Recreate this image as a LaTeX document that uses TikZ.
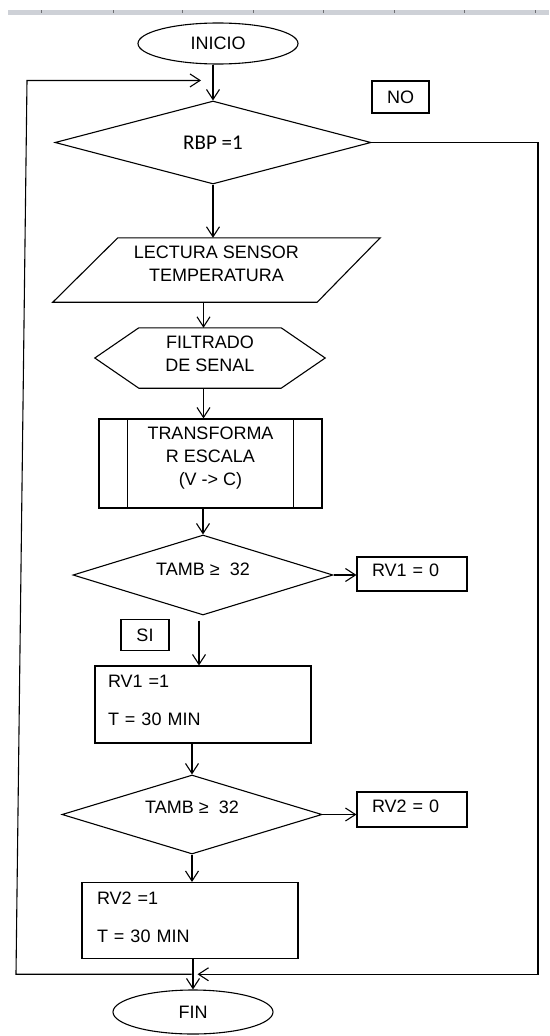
\documentclass[tikz,border=0pt]{standalone}
\usepackage{fontspec}
\setmainfont{Liberation Sans}
\newfontfamily\calibrifont{Carlito}
\usetikzlibrary{arrows.meta,shapes.geometric,calc}

\definecolor{rulerbar}{RGB}{206,209,215}
\definecolor{rulertick}{RGB}{110,110,115}

\begin{document}
\begin{tikzpicture}[x=1pt,y=-1pt,
  every node/.style={font=\fontsize{18}{23}\selectfont, text=black},
  line/.style={line width=1.1pt, draw=black},
  arr/.style={line, -{Straight Barb[length=10pt,width=13pt]}},
  box/.style={rectangle, line, inner sep=0pt},
  plain/.style={rectangle, inner sep=0pt},
  term/.style={ellipse, line, inner sep=0pt, minimum width=160pt},
  decide/.style={diamond, line, inner sep=0pt, aspect=3.3},
]
\useasboundingbox (0,0) rectangle (549,1036);

% ruler strip along the top edge
\fill[rulerbar] (8,10) rectangle (549,15);
\foreach \t in {41,113,182,253,323,394,464,535}
  \draw[rulertick, line width=1pt] (\t,10) -- (\t,12.5);

% ---- nodes ----
\node[term, minimum height=41pt] (inicio) at (218,43.5) {INICIO};
\node[decide, minimum width=316pt, minimum height=83pt,
      font=\calibrifont\fontsize{21}{25}\selectfont] (dia1) at (213,142.5) {RBP =1};
\node[box, minimum width=57pt, minimum height=32pt] (no) at (400.5,97) {NO};

\node[plain, minimum width=327pt, minimum height=64pt, align=center,
      text depth=13pt] (para) at (216.5,270) {LECTURA SENSOR\\TEMPERATURA};
\node[plain, minimum width=230pt, minimum height=60pt, align=center,
      text depth=8pt] (filt) at (210,358) {FILTRADO\\DE SENAL};
\node[box, minimum width=223pt, minimum height=89pt, align=center,
      text depth=14pt] (trans) at (210.5,463.5) {TRANSFORMA\\R ESCALA\\(V -> C)};

\node[decide, minimum width=260pt, minimum height=80pt,
      text depth=12pt] (dia2) at (203,575) {TAMB ≥ \hspace{5pt}32};
\node[box, minimum width=110pt, minimum height=34pt, text width=80pt,
      align=left, text depth=8pt] (rv10) at (412,574) {RV1 = 0};
\node[box, minimum width=48pt, minimum height=31pt] (si) at (145,635) {SI};
\node[box, minimum width=216pt, minimum height=77pt, text width=190pt,
      align=left, text depth=46pt] (rv11) at (203,704.5) {RV1 =1\\[15pt]T = 30 MIN};

\node[decide, minimum width=260pt, minimum height=79pt,
      text depth=15pt] (dia3) at (192,814.5) {TAMB ≥ \hspace{5pt}32};
\node[box, minimum width=110pt, minimum height=35pt, text width=80pt,
      align=left, text depth=7pt] (rv20) at (412,809.5) {RV2 = 0};
\node[box, minimum width=216pt, minimum height=76pt, text width=186pt,
      align=left, text depth=44pt] (rv21) at (190,920.5) {RV2 =1\\[15pt]T = 30 MIN};

\node[term, minimum height=44pt] (fin) at (193,1012) {FIN};

% outlines of the input/output and preparation shapes
\draw[line] (para.south west) -- ([xshift=65pt]para.north west)
  -- (para.north east) -- ([xshift=-63pt]para.south east) -- cycle;
\draw[line] (filt.west) -- ([xshift=44pt]filt.north west)
  -- ([xshift=-44pt]filt.north east) -- (filt.east)
  -- ([xshift=-44pt]filt.south east) -- ([xshift=44pt]filt.south west) -- cycle;
% predefined-process side bars
\draw[line] ([xshift=29pt]trans.north west) -- ([xshift=29pt]trans.south west);
\draw[line] ([xshift=-29pt]trans.north east) -- ([xshift=-29pt]trans.south east);

% ---- connectors ----
\coordinate (axis) at (203.5,0);
\coordinate (rc) at (538,0);
\coordinate (lb) at (16,0);
\coordinate (lt) at (27,0);

\draw[arr] (dia1.north |- inicio.south) -- (dia1.north);
\draw[arr] (dia1.south) -- (dia1.south |- para.north);
\draw[arr] (para.south -| axis) -- (filt.north -| axis);
\draw[arr] (filt.south -| axis) -- (trans.north -| axis);
\draw[arr] (trans.south -| dia2.north) -- (dia2.north);
\draw[arr] (dia2.east) -- (dia2.east -| rv10.west);
\draw[arr] ([xshift=-4pt,yshift=-5pt]dia2.south) -- ([xshift=-4pt]dia2.south |- rv11.north);
\draw[arr] (dia3.north |- rv11.south) -- (dia3.north);
\draw[arr] (dia3.east) -- (dia3.east -| rv20.west);
\draw[arr] (dia3.south) -- (dia3.south |- rv21.north);
\draw[arr] (fin.north |- rv21.south) -- (fin.north);

% loop lines
\coordinate (jn) at ($(rv21.south)!0.5!(fin.north)$);
\coordinate (backin) at ([xshift=6pt]jn);
\coordinate (loopin) at ([xshift=-12pt,yshift=20pt]dia1.north);
\draw[arr] (dia1.east) -- (dia1.east -| rc) -- (rc |- jn) -- (backin);
\draw[arr] (jn) -- (lb |- jn) -- (lt |- loopin) -- (loopin);
\end{tikzpicture}
\end{document}
